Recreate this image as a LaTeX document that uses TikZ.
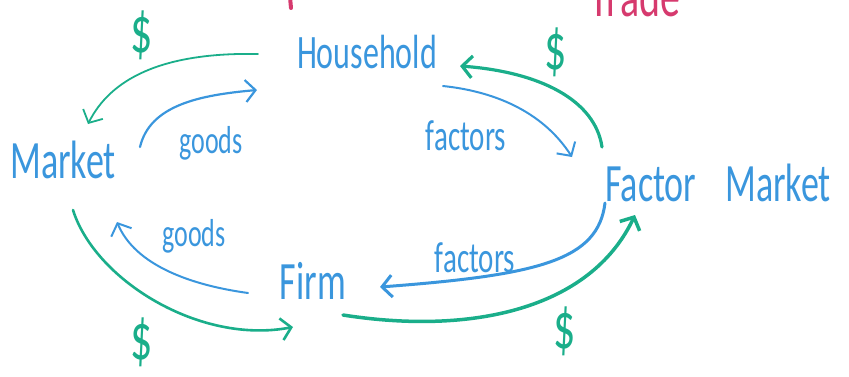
\documentclass[tikz,border=0pt]{standalone}
\usepackage{fontspec}
\setmainfont{Carlito}
\usetikzlibrary{arrows.meta,positioning}

\definecolor{penblue}{HTML}{3A96DD}
\definecolor{pengreen}{HTML}{1AAE8A}
\definecolor{penpink}{HTML}{D63A6E}

\newcommand{\hand}[1]{\scalebox{1}[1.5]{#1}}

\begin{document}
\begin{tikzpicture}[x=1pt,y=-1pt,
  every node/.style={inner sep=0pt},
  lab/.style={text=penblue,font=\fontsize{#1}{#1}\selectfont},
  cash/.style={text=pengreen,font=\fontsize{44}{44}\selectfont},
  ink/.style={line cap=round,line join=round,-{Straight Barb[length=10pt,width=22pt]}},
  money/.style={ink,draw=pengreen},
  stuff/.style={ink,draw=penblue}]
\useasboundingbox (0,0) rectangle (849,376);
\clip (0,0) rectangle (849,376);

% heading, cut off at the top
\node[text=penpink,font=\fontsize{40}{40}\selectfont,anchor=base] (trade) at (635,16) {\hand{Trade}};
\draw[penpink,line width=4pt,line cap=round] (290,-3) -- (291,8);

% the four places
\node[lab=32] (household) at (367,52) {\hand{Household}};
\node[lab=36] (market) at (63,160) {\hand{Market}};
\node[lab=36] (firm) at (313,281) {\hand{Firm}};
\node[lab=36] (factor) at (718,183) {\hand{Factor\hspace{0.8em}Market}};

% what flows
\node[lab=26] (goodsup) at (211,143) {\hand{goods}};
\node[lab=26] (goodslow) at (194,236) {\hand{goods}};
\node[lab=29] (factorsup) at (466,136) {\hand{factors}};
\node[lab=29] (factorslow) at (475,258) {\hand{factors}};
\node[cash] (cashtl) at (142,35) {\hand{\$}};
\node[cash] (cashtr) at (556,52) {\hand{\$}};
\node[cash] (cashbl) at (142,342) {\hand{\$}};
\node[cash] (cashbr) at (565,331) {\hand{\$}};

% arrow ends
\coordinate (hh-l) at (258,54);
\coordinate (hh-w) at (257,90);
\coordinate (hh-e) at (443,86);
\coordinate (hh-r) at (460,66);
\coordinate (mk-t) at (88,124);
\coordinate (mk-r) at (140,147);
\coordinate (mk-b) at (73,210);
\coordinate (mk-s) at (117,222);
\coordinate (fm-n) at (572,157);
\coordinate (fm-t) at (602,147);
\coordinate (fm-b) at (605,203);
\coordinate (fm-s) at (635,215);
\coordinate (fi-l) at (248,293);
\coordinate (fi-e) at (380,287);
\coordinate (fi-b) at (343,315);
\coordinate (fi-w) at (293,327);

% household side
\draw[money,line width=1.8pt] (hh-l) .. controls (160,52) and (110,80) .. (mk-t);
\draw[stuff,line width=2.2pt] (mk-r) .. controls (150,105) and (200,95) .. (hh-w);
\draw[stuff,line width=2pt] (hh-e) .. controls (500,92) and (545,115) .. (fm-n);
\draw[money,line width=3.2pt] (fm-t) .. controls (595,100) and (540,72) .. (hh-r);

% firm side
\draw[stuff,line width=3pt] (fm-b) .. controls (598,260) and (540,275) .. (fi-e);
\draw[money,line width=3.5pt] (fi-b) .. controls (470,335) and (590,310) .. (fm-s);
\draw[money,line width=2.6pt] (mk-b) .. controls (95,280) and (200,345) .. (fi-w);
\draw[stuff,line width=2pt] (fi-l) .. controls (190,285) and (135,265) .. (mk-s);
\end{tikzpicture}
\end{document}
